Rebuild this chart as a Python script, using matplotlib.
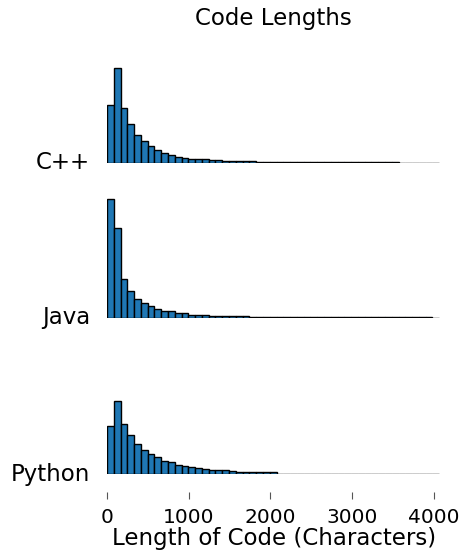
import numpy as np
from matplotlib import pyplot as plt

# histogram bin width (characters) and number of bins
bin_width = 83
n_bins = 49

languages = ["C++", "Java", "Python"]

# bar heights (relative frequency, arbitrary units)
cpp_counts = [58, 95, 55, 39, 28, 22, 17, 13, 10, 8, 6, 4.5, 4, 3.5, 3.5, 3, 3,
              2, 1.7, 1.7, 1.7, 1.7] + [0.5] * 21 + [0] * 6
java_counts = [119, 90, 39, 27, 19, 15, 12, 9, 7, 7, 5, 4.5, 2.7, 2.7, 2.7,
               1.3, 1.3, 1.3, 1.3, 1.3, 1.3] + [0.5] * 27 + [0] * 1
python_counts = [48, 73, 50, 39, 30, 24, 20, 17, 13, 12, 9, 8, 7, 6, 5.5, 4, 4,
                 4, 3.5, 2.3, 2.3, 2.3, 2.3, 2.3, 2.3] + [0.8] * 21 + [0] * 3

all_counts = [cpp_counts, java_counts, python_counts]
xticks = [0, 1000, 2000, 3000, 4000]

edges = np.arange(n_bins + 1) * bin_width
centers = (edges[:-1] + edges[1:]) / 2

fig = plt.figure(figsize=(4.62, 5.54), dpi=100)
W, H = 462, 554
left = 107 / W
width = (4100 / 1000 * 81.7) / W
height = 125 / H
baselines = [162.7, 317.7, 474.3]

axes = []
for name, counts, base in zip(languages, all_counts, baselines):
    ax = fig.add_axes([left, (H - base) / H, width, height])
    ax.hist(centers, bins=edges, weights=counts, color="#1f77b4",
            edgecolor="black", linewidth=1.0)
    ax.set_xlim(0, 4100)
    ax.set_ylim(0, 125)
    ax.set_yticks([])
    for s in ["top", "right", "left", "bottom"]:
        ax.spines[s].set_visible(False)
    ax.text(-0.05, 0, name, transform=ax.transAxes, ha="right", va="center",
            fontsize=16.5)
    ax.set_xticks([])
    axes.append(ax)

bottom = axes[-1]
bottom.spines["bottom"].set_position(("outward", 13))
bottom.set_xticks(xticks)
bottom.tick_params(axis="x", length=5, width=0.8, color="#555555",
                   labelsize=14.5, pad=6)
bottom.set_xlabel("Length of Code (Characters)", fontsize=16.5, labelpad=0)

fig.text(273 / W, 1 - 18 / H, "Code Lengths", ha="center", va="center",
         fontsize=16.5)

fig.savefig("out.png", dpi=100)
